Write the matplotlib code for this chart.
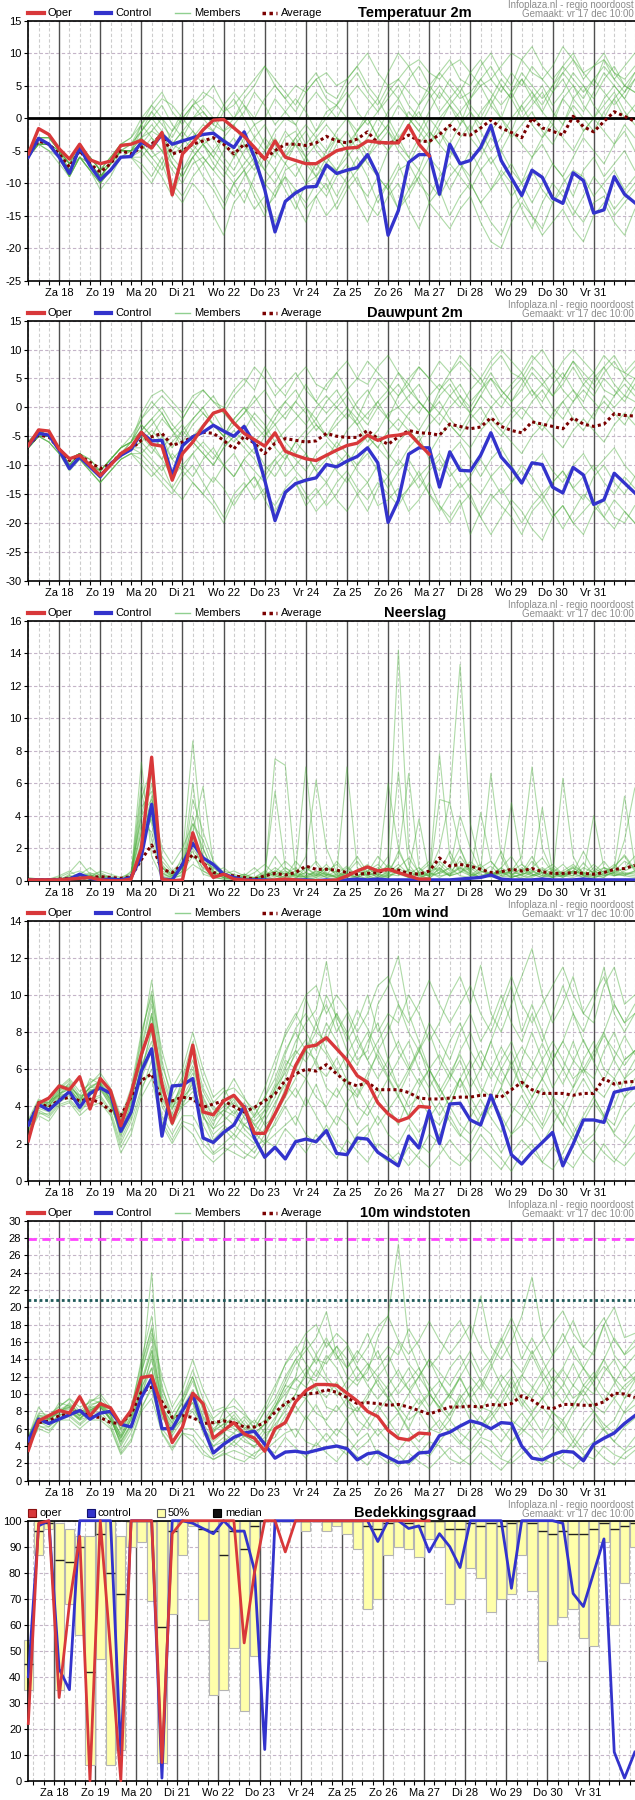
import numpy as np
import matplotlib
matplotlib.use('Agg')
import matplotlib.pyplot as plt
from matplotlib.lines import Line2D
from matplotlib.patches import Rectangle

plt.rcParams['font.family'] = ['Liberation Sans', 'DejaVu Sans']
NARROW = ['Liberation Sans Narrow', 'Liberation Sans', 'DejaVu Sans']

N = 60
steps = np.arange(N)
day_labels = ['Za 18', 'Zo 19', 'Ma 20', 'Di 21', 'Wo 22', 'Do 23', 'Vr 24',
              'Za 25', 'Zo 26', 'Ma 27', 'Di 28', 'Wo 29', 'Do 30', 'Vr 31']

# ---------------- Temperatuur 2m ----------------
temp_oper = [-5.5, -1.6, -2.5, -4.7, -6.3, -4.0, -6.4, -7.0, -6.6, -4.2,
             -4.0, -3.4, -4.6, -2.2, -11.8, -5.5, -3.8, -1.8, -0.3, -0.2,
             -1.5, -2.8, -4.5, -6.3, -3.5, -6.0, -6.5, -7.0, -7.0, -6.0,
             -5.0, -4.6, -4.5, -3.5, -3.7, -3.8, -3.8, -1.1, -4.0, -5.8]
temp_ctrl = [-6.0, -3.1, -4.0, -6.0, -8.5, -4.5, -7.3, -9.5, -8.0, -6.0,
             -5.9, -3.7, -4.5, -2.5, -4.0, -3.5, -3.0, -2.5, -2.3, -3.5,
             -4.5, -2.1, -6.0, -11.0, -17.5, -12.8, -11.5, -10.6, -10.5, -7.2,
             -8.5, -8.0, -7.6, -5.6, -8.8, -18.0, -14.2, -6.8, -5.6, -5.6,
             -11.7, -4.0, -7.0, -6.5, -4.5, -1.1, -6.5, -9.2, -11.9, -8.0,
             -9.1, -12.3, -13.1, -8.4, -9.6, -14.6, -14.1, -9.0, -11.7, -13.0]
temp_avg = [-5.5, -3.5, -4.0, -5.5, -7.5, -5.0, -7.0, -8.3, -7.0, -5.0,
            -5.5, -4.5, -4.0, -2.5, -5.5, -5.0, -4.0, -3.5, -3.0, -4.0,
            -5.5, -4.0, -5.0, -6.2, -5.0, -4.0, -4.0, -4.2, -3.8, -2.8,
            -3.5, -3.8, -3.2, -2.1, -3.8, -3.8, -3.5, -2.6, -3.5, -3.6,
            -2.5, -1.1, -2.5, -2.6, -1.5, -0.3, -1.5, -2.2, -3.0, 0.0,
            -1.5, -2.0, -2.6, 0.3, -1.3, -2.1, -0.5, 1.0, 0.3, -0.5]
temp_m01 = [-5, -3, -3, -5, -7, -4, -6, -8, -6, -4, -3, -1, 1, 3, 2, 0, 2, 4, 3, 1,
            2, 4, 6, 8, 5, 3, 5, 4, 6, 7, 5, 6, 8, 10, 7, 5, 6, 8, 9, 7,
            6, 8, 9, 7, 5, 6, 8, 10, 9, 7, 6, 8, 11, 9, 7, 8, 9, 7, 6, 8]
temp_m02 = [-6, -3, -4, -6, -8, -5, -7, -9, -7, -5, -4, -2, 0, 2, -1, -3, 0, 1, -1, -2,
            0, 2, -1, 0, 3, 1, -1, 2, 4, 2, 0, 3, 5, 3, 1, 4, 6, 4, 2, 5,
            7, 5, 3, 4, 6, 8, 5, 3, 6, 4, 2, 5, 7, 5, 3, 6, 8, 6, 4, 7]
temp_m03 = [-5, -4, -4, -5, -7, -5, -6, -8, -7, -5, -5, -3, -2, 0, -4, -5, -3, -1, -2, -4,
            -6, -3, -1, -4, -6, -3, -2, -5, -3, -1, -3, -4, -2, 0, -3, -5, -2, 1, -1, -3,
            0, 2, 0, -2, 1, 3, 0, -2, 2, 4, 1, -1, 3, 5, 2, 0, 3, 5, 3, 1]
temp_m04 = [-6, -4, -5, -7, -9, -6, -8, -10, -8, -6, -6, -5, -7, -9, -12, -8, -6, -9, -11, -14,
            -10, -8, -12, -15, -11, -9, -13, -16, -12, -10, -14, -11, -9, -13, -15, -12, -10, -14, -17, -13,
            -11, -15, -12, -10, -13, -16, -18, -14, -12, -15, -17, -13, -11, -14, -16, -13, -12, -15, -13, -11]
temp_m05 = [-5, -3, -4, -6, -8, -5, -7, -9, -8, -6, -5, -4, -6, -5, -8, -10, -7, -6, -8, -10,
            -12, -9, -7, -10, -12, -8, -7, -10, -9, -7, -8, -10, -8, -6, -9, -11, -8, -7, -10, -12,
            -9, -7, -9, -11, -8, -6, -9, -12, -10, -8, -11, -13, -10, -8, -9, -12, -10, -8, -11, -9]
temp_m06 = [-6, -4, -4, -6, -9, -6, -8, -10, -8, -5, -5, -2, 1, -1, -3, 0, 2, 0, -2, 1,
            3, 0, -3, -5, -2, 0, -1, -4, -2, 1, 2, 0, -2, 1, 3, 0, -3, -1, 2, 4,
            1, 3, 5, 2, 0, 3, 6, 4, 1, 3, 5, 2, 4, 7, 5, 3, 6, 8, 5, 4]
temp_m07 = [-5, -3, -3, -5, -7, -4, -7, -9, -7, -4, -4, -3, -5, -7, -4, -2, -4, -6, -8, -5,
            -3, -6, -8, -5, -3, -6, -4, -2, -5, -7, -4, -2, -5, -3, 0, -2, -4, -1, 1, -2,
            -4, -1, 1, -3, -5, -2, 0, -3, -1, 1, -2, -4, -1, 2, 0, -2, 1, 3, 0, 2]
temp_m08 = [-6, -4, -5, -6, -8, -6, -7, -9, -8, -6, -6, -6, -4, -2, -6, -8, -5, -3, -5, -7,
            -9, -7, -5, -8, -10, -7, -4, -6, -9, -11, -8, -6, -4, -7, -9, -5, -3, -6, -8, -4,
            -2, -5, -7, -9, -6, -3, -5, -8, -10, -6, -4, -7, -9, -6, -3, -5, -7, -4, -2, -5]
temp_m09 = [-5, -4, -4, -6, -9, -6, -8, -11, -9, -6, -6, -8, -10, -7, -11, -13, -10, -12, -15, -18,
            -13, -11, -14, -12, -16, -13, -11, -14, -12, -15, -13, -10, -13, -16, -12, -10, -14, -12, -9, -13,
            -15, -17, -14, -12, -16, -19, -20, -16, -13, -15, -18, -16, -14, -17, -19, -15, -13, -16, -18, -14]
temp_m10 = [-5, -3, -3, -5, -7, -5, -6, -8, -6, -4, -3, 0, 2, 4, 1, -1, 2, 3, 5, 2,
            0, 3, 5, 8, 6, 4, 2, 5, 7, 4, 3, 6, 8, 5, 3, 7, 10, 8, 5, 4,
            7, 9, 6, 5, 8, 10, 7, 5, 9, 11, 8, 6, 8, 10, 7, 5, 9, 6, 8, 10]
temp_m11 = [-6, -3, -4, -6, -8, -5, -7, -9, -7, -5, -5, -1, -3, -5, -2, 0, -2, -4, -6, -3,
            -1, -4, -6, -8, -5, -2, -4, -7, -9, -6, -3, -5, -8, -6, -3, -1, -4, -6, -3, 0,
            -2, -4, -1, 1, -2, -5, -3, 0, 2, -1, -3, 0, 3, 1, -2, 0, 2, 4, 1, -1]
temp_m12 = [-5, -3, -4, -5, -8, -5, -7, -9, -7, -5, -5, -4, -2, -3, -7, -9, -6, -4, -3, -6,
            -8, -5, -3, -1, -4, -6, -3, -1, -3, -5, -2, 0, -3, -5, -2, 1, 3, 0, -2, 1,
            4, 2, -1, 3, 5, 2, 0, 4, 6, 3, 1, 4, 6, 3, 1, 4, 7, 5, 3, 6]
temp_m13 = [-6, -4, -4, -6, -9, -6, -8, -10, -8, -6, -5, -3, -1, -3, -6, -4, -2, -4, -7, -9,
            -6, -4, -7, -10, -8, -5, -3, -6, -8, -5, -3, -5, -2, 0, -3, -1, 2, 0, -2, -4,
            -1, 2, 4, 1, -1, 2, 5, 3, 0, 2, 4, 1, -1, 3, 5, 2, 0, 3, 5, 4]
temp_m14 = [-5, -3, -4, -6, -8, -5, -7, -9, -8, -6, -6, -7, -9, -6, -10, -12, -9, -7, -10, -13,
            -10, -8, -11, -14, -12, -9, -11, -13, -10, -12, -9, -7, -10, -12, -9, -11, -14, -11, -8, -10,
            -12, -9, -7, -10, -13, -11, -8, -10, -14, -17, -13, -10, -12, -15, -12, -9, -11, -14, -12, -10]
temp_m15 = [-5, -3, -3, -5, -7, -4, -6, -8, -6, -4, -4, -1, 2, 0, -2, 1, 3, 1, -1, 2,
            4, 2, 0, 3, 5, 3, 1, 4, 6, 3, 2, 5, 7, 4, 2, 5, 3, 6, 8, 5,
            3, 6, 4, 7, 9, 6, 4, 7, 5, 8, 6, 4, 7, 9, 6, 8, 10, 7, 5, 7]
temp_m16 = [-6, -4, -4, -6, -8, -6, -7, -9, -7, -5, -5, -4, -6, -8, -5, -3, -5, -7, -5, -3,
            -5, -8, -6, -3, -5, -7, -9, -6, -4, -6, -8, -5, -3, -6, -4, -2, -5, -7, -4, -2,
            -4, -6, -3, -1, -4, -7, -5, -2, -4, -6, -3, -1, -3, -5, -2, 0, -2, -4, -1, -3]
temp_m17 = [-5, -4, -4, -6, -8, -5, -7, -9, -7, -5, -5, -5, -3, -5, -7, -9, -6, -4, -6, -8,
            -10, -13, -9, -6, -8, -11, -14, -10, -7, -9, -12, -9, -6, -9, -13, -10, -7, -11, -9, -6,
            -8, -11, -8, -5, -8, -11, -9, -7, -10, -13, -10, -7, -9, -12, -8, -6, -9, -7, -5, -8]
temp_m18 = [-6, -3, -4, -5, -8, -5, -6, -8, -7, -5, -4, -2, 0, -2, -4, -2, 0, 2, 0, -2,
            -1, 1, 4, 2, -1, 1, 3, 1, -2, 0, 2, 4, 1, -1, 1, 3, 5, 2, 0, 3,
            5, 3, 1, 3, 6, 4, 2, 4, 7, 5, 3, 5, 8, 6, 4, 6, 4, 2, 4, 6]

# ---------------- Dauwpunt 2m ----------------
dew_oper = [-6.6, -3.9, -4.1, -7.2, -8.9, -8.3, -10.0, -11.8, -10.0, -8.0,
            -6.9, -4.3, -6.4, -6.7, -12.6, -8.0, -6.0, -3.3, -1.0, -0.4,
            -2.7, -4.5, -5.6, -6.7, -4.4, -7.6, -8.3, -8.9, -9.2, -8.3,
            -7.4, -6.6, -6.2, -4.8, -5.7, -5.0, -4.8, -4.4, -6.3, -8.1]
dew_ctrl = [-6.6, -4.5, -4.8, -7.4, -10.6, -8.6, -10.3, -12.0, -9.8, -8.3,
            -7.3, -4.4, -5.8, -5.7, -11.8, -6.6, -5.1, -4.3, -3.1, -4.1,
            -5.0, -3.3, -6.3, -12.6, -19.6, -14.7, -13.2, -12.6, -12.2, -9.9,
            -10.3, -9.3, -8.5, -7.0, -9.6, -19.9, -16.1, -8.1, -7.0, -7.0,
            -13.8, -7.7, -10.9, -11.0, -8.3, -4.4, -8.6, -10.6, -13.1, -9.6,
            -9.9, -13.8, -14.8, -10.4, -11.7, -16.8, -16.0, -11.4, -13.1, -14.8]
dew_avg = [-6.6, -4.8, -5.1, -7.2, -9.2, -8.3, -9.5, -10.6, -9.8, -8.0,
           -7.2, -5.7, -5.1, -4.5, -6.6, -6.0, -5.1, -4.3, -4.5, -5.7,
           -7.2, -5.0, -6.2, -8.0, -6.2, -5.4, -5.7, -6.0, -5.8, -4.5,
           -5.0, -5.2, -5.2, -4.0, -5.4, -6.4, -5.1, -4.0, -4.4, -4.5,
           -4.8, -2.9, -3.3, -3.7, -3.4, -1.8, -3.3, -4.0, -4.4, -2.5,
           -2.9, -3.3, -3.7, -1.8, -2.9, -3.3, -2.9, -1.1, -1.4, -1.5]
dew_m01 = [-6, -4, -5, -7, -9, -8, -10, -11, -9, -7, -5, -2, 0, 2, 0, -2, 1, 3, 1, -1,
           2, 4, 7, 5, 2, 4, 6, 3, 1, 4, 6, 3, 5, 8, 6, 4, 2, 5, 7, 5,
           3, 6, 8, 6, 4, 7, 9, 6, 5, 8, 10, 7, 5, 8, 6, 4, 7, 9, 6, 5]
dew_m02 = [-7, -5, -5, -7, -10, -8, -10, -12, -10, -8, -7, -5, -3, -1, -4, -6, -3, -1, -3, -5,
           -2, 0, -2, -4, -1, 1, -1, -3, 0, 2, 0, -2, 1, 3, 0, -2, 2, 4, 1, -1,
           3, 5, 2, 0, 3, 5, 2, 4, 6, 3, 1, 4, 6, 3, 1, 5, 7, 4, 2, 5]
dew_m03 = [-7, -5, -6, -8, -10, -9, -11, -13, -11, -9, -8, -9, -11, -13, -15, -12, -10, -13, -16, -19,
           -15, -13, -16, -14, -18, -15, -13, -16, -14, -17, -15, -12, -15, -18, -14, -12, -16, -14, -11, -15,
           -17, -19, -16, -22, -18, -15, -17, -19, -22, -18, -16, -19, -17, -20, -22, -18, -16, -19, -20, -17]
dew_m04 = [-6, -4, -5, -7, -9, -8, -10, -12, -10, -8, -7, -7, -9, -11, -8, -10, -12, -9, -7, -10,
           -12, -9, -11, -13, -10, -8, -11, -13, -10, -8, -11, -13, -10, -8, -11, -14, -11, -9, -12, -10,
           -8, -11, -14, -12, -9, -12, -15, -13, -10, -12, -15, -13, -11, -14, -16, -12, -10, -13, -15, -12]
dew_m05 = [-6, -5, -5, -7, -9, -8, -9, -11, -9, -7, -6, -4, -2, 0, -3, -5, -2, 0, 2, -1,
           -3, -1, 1, 3, 0, -2, 1, -1, -4, -2, 0, 2, -1, -3, 0, 2, 4, 1, -1, 2,
           4, 2, 0, 3, 5, 2, 0, 3, 5, 2, 4, 6, 3, 1, 4, 6, 3, 2, 5, 3]
dew_m06 = [-7, -5, -5, -7, -10, -8, -10, -12, -10, -8, -7, -6, -8, -5, -9, -11, -8, -6, -8, -10,
           -12, -9, -7, -10, -12, -9, -6, -8, -11, -9, -6, -8, -10, -7, -5, -8, -10, -7, -5, -9,
           -11, -8, -6, -9, -12, -9, -7, -10, -13, -10, -8, -11, -13, -10, -8, -11, -9, -7, -10, -12]
dew_m07 = [-6, -4, -5, -7, -9, -8, -10, -11, -9, -7, -6, -1, 2, 3, 1, -1, 2, 3, 1, 0,
           3, 5, 3, 7, 4, 2, 5, 7, 4, 3, 6, 8, 5, 4, 7, 9, 6, 4, 7, 5,
           8, 6, 9, 7, 5, 8, 10, 8, 6, 9, 7, 5, 8, 10, 8, 6, 9, 7, 6, 8]
dew_m08 = [-7, -4, -5, -7, -10, -8, -10, -12, -10, -8, -7, -6, -4, -6, -9, -7, -5, -7, -9, -6,
           -4, -6, -8, -5, -3, -6, -8, -5, -3, -5, -7, -4, -2, -5, -7, -4, -2, -4, -6, -3,
           -1, -3, -5, -2, 0, -3, -5, -2, 0, -2, -4, -1, 1, -2, -4, -1, 1, -1, -3, 0]
dew_m09 = [-7, -5, -6, -8, -11, -9, -11, -13, -11, -9, -8, -10, -12, -10, -14, -16, -13, -15, -17, -20,
           -16, -14, -12, -16, -19, -15, -13, -17, -15, -13, -16, -18, -15, -13, -17, -16, -14, -18, -16, -13,
           -17, -20, -17, -15, -19, -22, -19, -16, -18, -21, -23, -19, -17, -20, -18, -16, -19, -21, -18, -20]
dew_m10 = [-6, -5, -5, -7, -9, -8, -10, -12, -10, -8, -6, -3, -5, -7, -5, -3, -6, -8, -10, -7,
           -5, -3, -6, -4, -7, -9, -6, -4, -2, -5, -3, -1, -3, -6, -4, -1, 0, -2, -4, -1,
           1, -2, -4, -1, 2, 0, -3, -1, 1, 3, 0, -2, 1, 3, 0, -2, 2, 0, 2, 1]
dew_m11 = [-7, -5, -5, -7, -10, -8, -10, -12, -10, -8, -7, -5, -7, -9, -6, -4, -6, -8, -10, -7,
           -5, -7, -9, -12, -9, -7, -9, -11, -8, -6, -8, -10, -7, -5, -7, -9, -6, -4, -6, -8,
           -5, -3, -5, -7, -4, -2, -4, -6, -8, -5, -3, -5, -7, -4, -2, -4, -6, -3, -1, -3]
dew_m12 = [-6, -4, -5, -7, -9, -8, -10, -11, -9, -7, -6, -2, 1, -1, -4, -2, 1, -1, -3, -5,
           -2, 0, -3, -5, -2, 1, 3, 0, -2, 1, 3, 0, -2, 2, 5, 3, 0, 2, 4, 1,
           -1, 2, 4, 1, 3, 6, 3, 1, 4, 7, 5, 2, 4, 7, 4, 2, 5, 3, 1, 4]
dew_m13 = [-7, -5, -6, -8, -10, -9, -11, -13, -11, -9, -8, -8, -10, -12, -14, -11, -13, -15, -12, -14,
           -17, -14, -12, -15, -17, -14, -12, -15, -18, -16, -13, -11, -14, -16, -13, -15, -17, -14, -12, -15,
           -18, -15, -13, -16, -19, -16, -14, -17, -20, -17, -15, -18, -21, -18, -15, -17, -19, -16, -18, -20]
dew_m14 = [-6, -4, -5, -7, -9, -8, -9, -11, -9, -7, -6, -3, -5, -2, -4, -7, -5, -3, -1, -4,
           -6, -4, -1, -3, -6, -4, -2, 0, -3, -5, -2, 0, -3, -1, 1, -2, -4, -1, 1, -1,
           -3, 0, 2, -1, -3, 0, 2, 0, -2, 1, 3, 0, -2, 1, 3, 1, -1, 2, 4, 2]
dew_m15 = [-7, -5, -5, -7, -10, -8, -10, -12, -10, -8, -7, -8, -6, -9, -12, -10, -8, -11, -13, -10,
           -8, -11, -14, -11, -9, -12, -10, -8, -11, -13, -10, -8, -11, -13, -10, -12, -9, -11, -14, -11,
           -9, -12, -10, -13, -15, -12, -10, -13, -11, -14, -16, -13, -11, -14, -12, -10, -13, -15, -12, -14]
dew_m16 = [-6, -5, -5, -7, -9, -8, -10, -12, -10, -8, -6, -4, -2, -5, -7, -4, -2, 0, -3, -5,
           -3, -1, 2, -1, -3, -1, 1, 4, 1, -1, 1, 3, 0, -2, 1, 3, 6, 3, 1, -1,
           2, 4, 1, -1, 2, 5, 3, 1, 3, 6, 4, 2, 5, 8, 5, 3, 6, 8, 5, 7]

# ---------------- Neerslag ----------------
rain_oper = [0.05, 0.05, 0.05, 0.05, 0.1, 0.15, 0.2, 0.05, 0.0, 0.0,
             0.1, 2.0, 7.6, 0.1, 0.0, 0.05, 2.95, 1.1, 0.2, 0.4,
             0.1, 0.05, 0.0, 0.0, 0.05, 0.1, 0.05, 0.0, 0.0, 0.0,
             0.05, 0.3, 0.6, 0.85, 0.6, 0.7, 0.5, 0.3, 0.1, 0.1]
rain_ctrl = [0.05, 0.05, 0.05, 0.05, 0.1, 0.4, 0.15, 0.05, 0.1, 0.05,
             0.2, 1.5, 4.7, 0.1, 0.05, 1.0, 2.3, 1.4, 1.0, 0.4,
             0.2, 0.05, 0.05, 0.05, 0.0, 0.05, 0.05, 0.05, 0.0, 0.05,
             0.0, 0.05, 0.1, 0.05, 0.1, 0.05, 0.05, 0.05, 0.05, 0.05,
             0.05, 0.05, 0.1, 0.15, 0.2, 0.35, 0.1, 0.05, 0.05, 0.05,
             0.1, 0.05, 0.05, 0.05, 0.1, 0.05, 0.05, 0.05, 0.05, 0.05]
rain_avg = [0.05, 0.05, 0.05, 0.1, 0.15, 0.15, 0.2, 0.25, 0.2, 0.15,
            0.25, 1.3, 2.2, 0.7, 0.5, 1.0, 1.6, 1.1, 0.5, 0.35,
            0.3, 0.2, 0.1, 0.3, 0.45, 0.35, 0.5, 0.9, 0.7, 0.7,
            0.65, 0.5, 0.4, 0.45, 0.5, 0.7, 0.65, 0.45, 0.4, 0.6,
            1.4, 0.9, 1.0, 0.9, 0.7, 0.5, 0.55, 0.7, 0.6, 0.75,
            0.55, 0.45, 0.45, 0.5, 0.45, 0.4, 0.5, 0.7, 0.75, 0.95]
rain_m01 = [0.0, 0.0, 0.0, 0.1, 0.3, 0.2, 0.5, 0.2, 0.0, 0.0, 0.3, 7.3, 1.5, 0.2, 0.1, 0.8, 2.5, 0.6, 0.2, 0.1,
            0.0, 0.0, 0.1, 0.3, 0.6, 0.3, 0.1, 0.8, 0.4, 0.2, 0.1, 0.5, 1.2, 0.3, 0.6, 1.5, 14.2, 2.0, 0.4, 0.1,
            0.8, 0.3, 1.5, 0.6, 0.2, 0.5, 1.8, 0.4, 0.1, 0.3, 0.7, 0.2, 0.5, 0.3, 1.1, 0.4, 0.2, 0.9, 1.5, 0.6]
rain_m02 = [0.1, 0.0, 0.1, 0.2, 0.5, 1.2, 0.4, 0.1, 0.0, 0.2, 0.5, 3.0, 6.0, 0.5, 0.2, 1.5, 8.6, 2.0, 0.5, 0.3,
            0.2, 0.1, 0.0, 0.2, 7.5, 7.1, 0.5, 0.2, 0.4, 1.0, 0.3, 0.2, 0.6, 0.2, 0.1, 0.4, 0.8, 0.3, 0.1, 0.5,
            2.0, 5.0, 13.3, 3.5, 0.8, 0.3, 0.6, 0.2, 0.4, 1.2, 0.5, 0.2, 0.3, 0.8, 0.3, 0.1, 0.5, 1.0, 0.4, 0.3]
rain_m03 = [0.0, 0.1, 0.0, 0.0, 0.2, 0.4, 0.8, 0.3, 0.1, 0.0, 0.2, 4.5, 5.5, 1.0, 0.3, 0.5, 4.0, 1.5, 0.6, 0.2,
            0.1, 0.3, 0.8, 0.2, 0.5, 1.2, 0.6, 7.0, 1.0, 0.3, 0.2, 0.8, 0.3, 0.1, 0.2, 0.6, 1.5, 6.6, 0.8, 0.2,
            7.8, 1.5, 0.5, 0.8, 0.3, 0.5, 0.2, 0.6, 1.5, 7.0, 2.0, 0.5, 0.2, 0.6, 0.4, 0.2, 0.8, 0.5, 0.3, 0.2]
rain_m04 = [0.0, 0.0, 0.0, 0.1, 0.1, 0.3, 0.2, 0.6, 0.4, 0.2, 0.4, 6.0, 3.5, 0.5, 0.1, 0.6, 5.0, 3.0, 1.2, 0.5,
            0.2, 0.1, 0.2, 0.1, 0.3, 0.2, 0.4, 1.5, 6.2, 2.0, 0.5, 7.0, 0.8, 0.3, 0.1, 0.3, 6.7, 1.0, 0.2, 0.4,
            1.2, 0.6, 4.0, 2.0, 0.6, 6.6, 1.5, 0.3, 0.2, 0.5, 0.8, 0.4, 0.2, 0.5, 1.8, 0.6, 0.3, 0.5, 2.5, 5.7]
rain_m05 = [0.0, 0.0, 0.1, 0.0, 0.4, 0.6, 0.3, 0.2, 0.1, 0.0, 0.1, 2.0, 4.0, 0.8, 0.4, 1.0, 3.0, 5.8, 1.0, 0.3,
            0.1, 0.0, 0.1, 0.4, 5.5, 0.8, 0.3, 0.2, 0.6, 0.4, 0.2, 0.1, 0.3, 0.6, 0.2, 6.0, 2.0, 0.5, 0.3, 0.1,
            5.0, 4.8, 2.0, 0.4, 0.2, 0.3, 0.8, 0.4, 0.5, 1.5, 0.4, 0.2, 6.3, 1.5, 0.3, 0.2, 0.4, 0.8, 5.2, 1.0]
rain_m06 = [0.2, 0.1, 0.0, 0.1, 0.2, 0.1, 0.4, 0.5, 0.2, 0.1, 0.2, 5.0, 7.0, 0.8, 0.3, 0.9, 6.0, 1.2, 0.3, 0.6,
            0.4, 0.2, 0.1, 0.3, 0.8, 0.4, 0.2, 0.5, 0.3, 0.8, 0.4, 0.2, 0.6, 0.3, 0.5, 0.9, 0.4, 0.6, 3.8, 0.5,
            0.3, 0.4, 0.9, 0.4, 0.2, 0.6, 0.3, 0.2, 0.4, 0.5, 4.5, 0.6, 0.3, 0.2, 0.4, 4.0, 0.8, 0.3, 0.4, 0.6]
rain_m07 = [0.0, 0.0, 0.0, 0.0, 0.1, 0.2, 0.1, 0.1, 0.0, 0.0, 0.2, 3.5, 3.0, 0.4, 0.2, 0.3, 2.0, 1.0, 0.5, 0.8,
            0.3, 0.2, 0.1, 0.2, 0.4, 0.6, 0.2, 0.3, 0.6, 0.3, 1.2, 0.4, 0.2, 0.5, 1.5, 0.8, 0.4, 0.2, 0.5, 1.0,
            0.6, 0.3, 0.8, 0.4, 4.2, 1.2, 0.5, 0.8, 0.3, 0.2, 0.5, 0.3, 0.6, 1.0, 0.5, 0.3, 0.2, 0.6, 1.2, 0.8]
rain_m08 = [0.0, 0.1, 0.1, 0.0, 0.0, 0.1, 0.0, 0.2, 0.3, 0.1, 0.3, 5.5, 2.5, 0.3, 0.1, 0.4, 1.0, 0.6, 0.3, 0.2,
            0.0, 0.0, 0.2, 0.5, 0.3, 0.1, 0.4, 0.8, 0.3, 0.5, 0.2, 0.4, 0.1, 0.2, 0.4, 0.3, 1.8, 0.6, 0.3, 0.5,
            0.2, 0.5, 1.2, 0.5, 0.2, 0.4, 0.6, 4.8, 1.0, 0.6, 0.3, 0.5, 1.0, 0.4, 0.2, 0.8, 0.4, 0.3, 0.6, 0.9]
rain_m09 = [0.0, 0.0, 0.0, 0.1, 0.2, 0.3, 0.1, 0.0, 0.0, 0.1, 0.1, 1.5, 4.8, 2.0, 1.0, 2.0, 3.5, 2.5, 0.8, 0.4,
            0.2, 0.0, 0.1, 0.2, 0.1, 0.3, 0.6, 0.2, 0.1, 0.3, 0.6, 0.2, 0.5, 0.8, 0.3, 0.2, 0.6, 0.3, 0.1, 0.2,
            0.5, 0.8, 0.3, 0.2, 0.6, 0.3, 0.5, 0.2, 0.4, 0.6, 0.3, 0.2, 0.5, 0.8, 0.4, 0.6, 0.3, 0.5, 0.8, 1.5]
rain_m10 = [0.1, 0.0, 0.1, 0.3, 0.6, 0.2, 0.1, 0.3, 0.2, 0.0, 0.6, 4.0, 5.0, 1.5, 0.6, 1.2, 1.8, 0.4, 0.2, 0.1,
            0.2, 0.4, 0.1, 0.0, 0.2, 0.5, 0.3, 0.1, 0.2, 0.4, 0.3, 0.5, 0.2, 0.4, 0.8, 0.3, 0.5, 0.2, 0.4, 0.3,
            0.7, 0.3, 0.5, 1.0, 0.4, 0.2, 0.5, 0.3, 0.8, 0.4, 0.2, 0.4, 0.3, 0.5, 0.2, 0.4, 0.6, 0.3, 0.5, 0.4]
rain_m11 = [0.0, 0.0, 0.0, 0.1, 0.2, 0.1, 0.3, 0.4, 0.2, 0.1, 0.2, 3.0, 4.2, 0.6, 0.3, 0.8, 2.2, 1.6, 0.4, 0.2,
            0.1, 0.2, 0.5, 1.0, 0.4, 0.2, 1.2, 0.5, 0.2, 0.6, 1.0, 0.4, 0.2, 0.8, 0.3, 1.0, 0.5, 0.2, 0.6, 1.2,
            0.4, 0.8, 2.0, 0.6, 1.0, 0.3, 0.8, 1.5, 0.5, 0.3, 0.6, 1.0, 0.4, 0.3, 0.8, 0.5, 1.2, 0.4, 0.8, 1.0]
rain_m12 = [0.0, 0.1, 0.0, 0.0, 0.1, 0.3, 0.2, 0.1, 0.2, 0.1, 0.1, 2.5, 3.8, 0.8, 0.2, 0.6, 1.5, 0.8, 0.3, 0.4,
            0.6, 0.3, 0.1, 0.4, 1.5, 0.6, 0.3, 0.5, 1.2, 0.4, 0.2, 0.6, 1.5, 0.5, 0.2, 0.5, 1.0, 0.4, 0.8, 0.3,
            0.5, 1.8, 0.6, 0.3, 0.8, 1.2, 0.4, 0.6, 0.3, 0.8, 1.4, 0.5, 0.3, 0.6, 0.4, 1.0, 0.5, 0.8, 1.6, 0.7]
rain_m13 = [0.1, 0.0, 0.0, 0.0, 0.3, 0.2, 0.1, 0.2, 0.1, 0.0, 0.3, 4.0, 6.5, 1.2, 0.5, 1.0, 3.5, 2.0, 0.6, 0.2,
            0.3, 0.1, 0.2, 0.6, 0.3, 0.8, 0.4, 0.2, 0.3, 0.8, 0.5, 0.3, 0.6, 1.0, 0.4, 0.2, 0.8, 1.4, 0.5, 0.3,
            1.0, 0.4, 0.8, 0.3, 0.5, 0.9, 0.3, 0.6, 1.0, 0.4, 0.2, 0.7, 0.4, 0.9, 0.5, 0.3, 0.6, 0.4, 0.3, 0.6]
rain_m14 = [0.0, 0.0, 0.1, 0.0, 0.2, 0.4, 0.3, 0.1, 0.0, 0.1, 0.2, 2.2, 5.2, 0.9, 0.4, 0.7, 2.8, 1.2, 0.8, 0.3,
            0.2, 0.4, 0.2, 0.3, 0.6, 0.4, 0.8, 0.3, 0.5, 0.2, 0.4, 0.9, 0.3, 0.6, 1.0, 0.4, 0.3, 0.7, 0.4, 0.6,
            0.8, 0.3, 0.5, 1.2, 0.6, 0.3, 0.6, 0.4, 0.7, 0.3, 0.5, 0.8, 0.4, 0.6, 0.3, 0.5, 0.8, 0.6, 0.4, 0.5]

# ---------------- 10m wind ----------------
wind_oper = [2.15, 4.17, 4.45, 5.1, 4.9, 5.6, 3.86, 5.5, 4.85, 2.96,
             4.7, 6.8, 8.4, 5.2, 3.1, 4.7, 7.3, 3.7, 3.55, 4.3,
             4.6, 3.95, 2.55, 2.55, 3.6, 4.7, 6.2, 7.2, 7.3, 7.7,
             7.1, 6.5, 5.65, 5.3, 4.2, 3.6, 3.2, 3.4, 4.0, 3.95]
wind_ctrl = [3.0, 4.1, 3.8, 4.3, 4.8, 3.95, 4.7, 5.0, 4.7, 2.66,
             3.7, 5.9, 7.1, 2.4, 5.1, 5.15, 5.5, 2.3, 2.06, 2.6,
             3.0, 4.0, 2.3, 1.26, 1.8, 1.17, 2.1, 2.24, 2.1, 2.7,
             1.47, 1.4, 2.3, 2.24, 1.53, 1.17, 0.8, 2.4, 1.76, 3.77,
             2.0, 4.13, 4.17, 3.27, 3.0, 4.6, 3.2, 1.4, 0.9, 1.53,
             2.06, 2.6, 0.8, 1.97, 3.27, 3.27, 3.14, 4.76, 4.9, 5.0]
wind_avg = [2.96, 4.2, 3.95, 4.35, 4.5, 4.3, 4.4, 4.2, 3.77, 3.5,
            4.5, 5.4, 5.75, 4.3, 4.3, 4.5, 4.4, 3.95, 4.13, 4.3,
            4.0, 3.7, 3.95, 4.3, 4.67, 5.4, 5.75, 6.0, 5.9, 6.25,
            5.75, 5.3, 5.1, 5.3, 4.9, 4.9, 4.9, 4.75, 4.45, 4.4,
            4.4, 4.45, 4.5, 4.5, 4.6, 4.6, 4.5, 4.9, 5.3, 4.9,
            4.7, 4.7, 4.7, 4.6, 4.7, 4.7, 5.5, 5.2, 5.3, 5.35]
wind_m01 = [3.0, 4.2, 4.0, 4.8, 5.2, 4.4, 5.0, 5.4, 4.6, 3.2, 4.8, 7.5, 10.8, 6.5, 4.2, 5.0, 6.0, 4.5, 3.5, 4.0,
            4.5, 3.8, 3.0, 3.5, 4.5, 6.0, 7.5, 8.5, 9.2, 11.8, 8.5, 7.0, 6.2, 7.5, 8.5, 6.5, 5.0, 6.0, 7.2, 5.5,
            4.5, 5.5, 6.5, 5.0, 6.0, 7.5, 6.0, 5.0, 6.5, 8.0, 6.5, 5.0, 6.0, 7.5, 6.0, 5.5, 7.0, 8.0, 6.5, 7.0]
wind_m02 = [3.2, 4.0, 3.8, 4.5, 4.8, 4.0, 4.6, 5.0, 4.2, 2.5, 3.5, 5.5, 7.0, 4.0, 3.0, 4.5, 5.0, 3.0, 2.0, 2.5,
            3.0, 2.5, 2.0, 2.8, 3.5, 4.5, 5.5, 7.0, 8.0, 7.5, 9.0, 8.0, 6.5, 7.0, 9.5, 10.5, 12.1, 9.0, 7.5, 6.0,
            5.0, 4.0, 5.5, 4.5, 3.5, 4.0, 5.0, 6.5, 5.0, 4.0, 3.0, 4.5, 3.5, 2.5, 3.5, 4.5, 3.5, 3.0, 4.5, 5.5]
wind_m03 = [2.5, 3.5, 3.2, 4.0, 4.2, 3.5, 4.0, 4.2, 3.5, 1.5, 2.5, 4.5, 5.5, 3.0, 2.0, 3.0, 2.5, 1.5, 1.0, 1.5,
            2.0, 1.5, 1.2, 2.0, 2.5, 3.0, 3.5, 2.5, 2.0, 3.0, 2.0, 1.5, 2.5, 3.0, 1.5, 1.0, 1.5, 0.8, 1.5, 2.5,
            2.0, 1.2, 0.8, 1.5, 2.5, 1.8, 1.2, 0.5, 1.5, 2.0, 1.0, 0.6, 1.5, 2.5, 1.5, 1.0, 2.0, 1.2, 0.8, 1.5]
wind_m04 = [3.0, 4.3, 4.2, 5.0, 5.5, 4.8, 5.2, 5.8, 5.0, 3.5, 4.5, 6.5, 9.0, 5.5, 4.0, 4.5, 5.5, 4.0, 3.0, 4.5,
            5.5, 4.5, 3.5, 4.5, 5.5, 7.0, 8.0, 7.0, 6.5, 8.0, 9.0, 7.5, 8.5, 10.0, 8.0, 9.0, 8.5, 10.0, 9.0, 7.5,
            8.5, 10.0, 11.0, 9.5, 11.6, 9.0, 8.0, 9.5, 11.0, 12.5, 10.0, 8.5, 9.5, 11.0, 9.0, 8.5, 10.5, 11.5, 9.5, 10.0]
wind_m05 = [2.8, 3.8, 3.5, 4.2, 4.6, 4.0, 4.8, 5.0, 4.0, 2.8, 4.0, 6.0, 8.0, 4.5, 3.5, 4.0, 4.5, 3.5, 2.5, 3.0,
            2.5, 3.5, 4.0, 3.0, 3.5, 5.0, 6.0, 5.5, 6.5, 5.0, 4.5, 5.5, 4.0, 3.5, 4.5, 5.5, 4.5, 3.5, 5.0, 6.0,
            5.0, 4.0, 5.5, 6.5, 5.0, 4.5, 6.0, 7.0, 5.5, 4.5, 5.5, 7.0, 6.0, 5.0, 6.5, 7.5, 6.0, 5.5, 6.5, 7.0]
wind_m06 = [3.1, 4.1, 4.3, 4.6, 5.0, 4.2, 5.5, 5.2, 4.4, 3.0, 4.2, 7.0, 9.5, 5.0, 3.8, 5.5, 7.0, 5.0, 4.0, 3.5,
            3.0, 4.0, 3.0, 2.5, 4.0, 5.5, 7.0, 9.8, 8.5, 7.0, 6.0, 5.0, 4.5, 5.5, 7.0, 6.0, 5.0, 4.0, 4.5, 3.5,
            3.0, 4.0, 3.0, 2.5, 3.5, 4.5, 3.5, 2.5, 3.0, 4.0, 5.0, 4.0, 3.0, 4.5, 5.5, 4.5, 3.5, 4.0, 5.5, 6.0]
wind_m07 = [3.3, 4.4, 4.1, 5.2, 5.0, 4.6, 4.6, 5.0, 4.8, 3.4, 5.0, 8.0, 10.0, 7.0, 5.0, 6.0, 8.0, 6.0, 4.5, 5.0,
            4.0, 3.0, 3.5, 4.5, 6.0, 8.0, 9.0, 8.0, 7.0, 8.5, 7.5, 6.0, 7.0, 8.0, 6.5, 5.5, 6.5, 7.5, 6.0, 5.0,
            6.0, 7.5, 8.5, 7.0, 6.0, 7.5, 9.0, 10.5, 8.0, 9.5, 8.0, 6.5, 7.5, 9.0, 7.5, 6.5, 8.0, 9.5, 8.5, 9.0]
wind_m08 = [2.6, 3.6, 3.6, 4.4, 4.4, 3.8, 4.4, 4.6, 3.8, 2.0, 3.2, 5.0, 6.0, 3.5, 2.5, 3.5, 3.5, 2.5, 1.5, 2.0,
            2.5, 2.0, 1.5, 2.5, 3.0, 4.0, 3.0, 4.5, 3.5, 2.5, 3.5, 3.0, 2.0, 2.5, 3.5, 2.5, 2.0, 3.0, 2.0, 1.5,
            2.5, 3.5, 2.5, 2.0, 3.0, 2.5, 1.5, 2.5, 3.5, 3.0, 2.0, 3.0, 4.0, 3.0, 2.0, 2.5, 3.5, 2.5, 2.0, 3.0]
wind_m09 = [3.0, 4.0, 4.0, 4.7, 4.9, 4.3, 5.1, 5.3, 4.3, 2.7, 4.1, 6.8, 8.5, 4.8, 3.6, 4.8, 5.8, 4.2, 3.2, 3.8,
            3.5, 3.0, 2.5, 3.5, 5.0, 6.5, 6.0, 7.0, 8.5, 9.5, 8.0, 9.0, 7.5, 6.5, 7.5, 8.5, 7.0, 6.0, 7.0, 8.0,
            6.5, 5.5, 7.0, 8.0, 6.5, 5.5, 6.5, 7.5, 6.0, 5.5, 6.5, 7.5, 6.5, 5.5, 6.0, 7.0, 8.0, 6.5, 5.5, 6.5]
wind_m10 = [2.9, 4.0, 3.9, 4.6, 4.7, 4.1, 4.9, 4.9, 4.1, 2.6, 3.8, 6.2, 7.5, 4.2, 3.2, 4.2, 4.8, 3.8, 2.8, 3.2,
            3.8, 2.8, 2.2, 3.2, 4.2, 5.2, 4.5, 5.5, 4.5, 4.0, 5.0, 4.0, 3.0, 4.0, 5.0, 4.0, 3.0, 4.5, 5.5, 4.5,
            3.5, 4.5, 5.5, 4.0, 3.0, 4.0, 5.0, 4.0, 3.5, 4.5, 5.5, 4.5, 4.0, 5.0, 6.0, 5.0, 4.5, 5.5, 4.5, 5.0]
wind_m11 = [2.9, 4.1, 4.0, 4.9, 5.1, 4.5, 5.0, 5.3, 4.5, 3.0, 4.4, 7.2, 9.8, 5.8, 4.1, 5.2, 6.5, 4.8, 3.8, 4.2,
            3.6, 4.2, 3.4, 4.0, 5.2, 6.8, 8.2, 9.0, 8.0, 10.0, 8.8, 7.8, 9.2, 8.2, 7.0, 8.0, 9.5, 8.0, 7.0, 8.5,
            7.5, 6.5, 8.0, 9.0, 7.5, 8.5, 10.0, 8.5, 7.5, 9.0, 7.5, 9.0, 10.5, 9.0, 8.0, 9.5, 11.5, 9.0, 8.0, 9.0]
wind_m12 = [3.1, 4.2, 4.1, 4.6, 5.3, 4.4, 5.0, 5.1, 4.4, 2.2, 3.4, 5.8, 8.2, 4.4, 3.4, 4.4, 5.2, 3.6, 2.2, 2.8,
            2.2, 3.0, 2.6, 2.0, 3.2, 4.2, 5.0, 4.0, 5.2, 3.8, 3.0, 4.2, 5.0, 4.0, 3.0, 3.8, 4.6, 3.4, 2.6, 3.4,
            4.2, 3.2, 2.4, 3.4, 4.4, 3.4, 2.6, 3.6, 4.6, 3.6, 2.8, 3.8, 3.0, 2.2, 3.2, 4.2, 3.4, 2.6, 3.6, 4.2]
wind_m13 = [2.7, 3.9, 3.7, 4.5, 4.7, 4.2, 4.8, 5.1, 4.2, 2.4, 3.6, 6.5, 9.0, 5.2, 3.0, 4.0, 5.4, 3.4, 2.8, 3.6,
            4.4, 3.4, 2.8, 3.8, 5.0, 5.8, 6.8, 7.6, 6.2, 5.6, 6.6, 5.4, 4.6, 5.8, 6.8, 5.6, 4.6, 5.8, 7.0, 6.0,
            4.8, 5.8, 6.8, 5.6, 4.6, 6.0, 7.2, 6.2, 5.0, 6.2, 7.4, 6.2, 5.2, 6.4, 7.6, 6.4, 5.4, 6.6, 7.8, 6.8]
wind_m14 = [3.2, 4.3, 4.2, 4.9, 5.4, 4.6, 5.3, 5.6, 4.7, 3.3, 4.6, 7.8, 10.2, 6.2, 4.6, 5.6, 7.5, 5.5, 4.2, 4.8,
            5.0, 4.4, 3.8, 5.0, 6.5, 7.8, 8.8, 10.0, 10.5, 9.0, 10.0, 9.2, 8.0, 9.0, 10.5, 11.0, 9.5, 8.5, 9.5, 10.8,
            9.5, 8.5, 9.5, 10.5, 9.0, 8.0, 9.5, 11.0, 9.5, 8.5, 9.5, 10.5, 11.5, 10.0, 9.0, 10.0, 11.0, 9.5, 8.5, 9.5]
wind_m15 = [2.7, 3.7, 3.4, 4.1, 4.3, 3.7, 4.3, 4.5, 3.6, 1.8, 2.8, 4.8, 6.5, 3.2, 2.2, 3.2, 3.0, 2.0, 1.4, 1.8,
            1.5, 1.2, 1.8, 2.2, 1.8, 2.8, 2.2, 1.5, 2.5, 1.8, 1.2, 2.2, 1.6, 1.0, 2.0, 1.5, 0.9, 1.8, 1.2, 0.7,
            1.4, 2.2, 1.5, 1.0, 1.8, 1.2, 0.6, 1.5, 2.2, 1.6, 1.0, 1.8, 1.2, 0.7, 1.6, 2.2, 1.5, 1.0, 1.8, 2.4]
wind_m16 = [3.0, 4.0, 4.2, 4.7, 5.0, 4.3, 4.8, 5.2, 4.3, 2.9, 4.3, 6.6, 8.8, 5.0, 3.9, 5.0, 6.2, 4.4, 3.4, 3.8,
            4.2, 3.6, 3.2, 3.8, 4.8, 6.2, 7.0, 6.4, 7.5, 6.8, 5.8, 6.8, 7.8, 6.5, 5.5, 6.5, 7.5, 6.2, 5.2, 6.0,
            6.8, 5.8, 5.0, 6.0, 7.0, 6.0, 5.2, 6.2, 7.2, 6.4, 5.5, 6.5, 7.5, 6.5, 5.8, 6.8, 7.8, 7.0, 6.2, 7.0]

# ---------------- 10m windstoten ----------------
gust_oper = [3.5, 6.9, 7.5, 8.1, 7.8, 9.7, 7.5, 8.9, 8.4, 6.5,
             8.1, 11.9, 12.1, 8.5, 4.4, 6.2, 10.1, 8.9, 4.9, 5.8,
             6.7, 5.4, 4.9, 3.4, 6.0, 6.7, 9.1, 10.4, 11.1, 11.1,
             11.0, 10.1, 9.2, 8.0, 7.4, 5.8, 4.9, 4.7, 5.5, 5.4]
gust_ctrl = [4.6, 7.1, 6.6, 7.1, 7.6, 8.1, 7.1, 7.8, 8.0, 6.5,
             6.2, 9.6, 11.8, 6.0, 6.0, 8.1, 10.0, 6.2, 3.2, 4.2,
             5.0, 5.5, 5.7, 4.2, 2.6, 3.3, 3.4, 3.2, 3.5, 3.8,
             4.0, 3.7, 2.4, 3.1, 3.3, 2.7, 2.1, 2.2, 3.2, 3.3,
             5.2, 5.6, 6.3, 6.9, 6.6, 6.0, 6.7, 6.6, 4.0, 2.6,
             2.4, 3.0, 3.4, 3.3, 2.3, 4.2, 4.9, 5.5, 6.6, 7.5]
gust_avg = [4.2, 6.7, 6.9, 7.5, 7.7, 8.1, 7.4, 7.3, 6.7, 6.6,
            7.7, 10.2, 10.8, 9.1, 7.3, 7.5, 7.3, 6.6, 6.7, 6.9,
            6.7, 6.2, 6.2, 6.7, 7.9, 8.9, 9.6, 10.0, 10.1, 10.5,
            10.2, 9.6, 8.9, 9.0, 8.9, 8.7, 8.8, 8.5, 8.1, 7.7,
            8.1, 8.5, 8.5, 8.6, 8.5, 8.8, 8.7, 8.9, 9.8, 9.3,
            8.5, 8.3, 8.8, 8.8, 8.7, 8.7, 9.1, 10.1, 10.0, 9.6]
gust_m01 = [5.0, 8.5, 7.0, 8.0, 8.5, 7.5, 8.0, 9.0, 7.0, 5.5, 8.0, 14.0, 19.0, 11.0, 7.0, 9.0, 12.0, 8.0, 6.0, 7.0,
            8.0, 6.5, 5.5, 6.5, 8.5, 11.0, 13.5, 15.0, 16.5, 19.5, 14.5, 12.0, 11.0, 13.0, 15.0, 12.0, 10.0, 11.5, 13.0, 10.0,
            8.5, 10.0, 12.0, 9.5, 11.0, 13.5, 11.0, 9.0, 12.0, 14.5, 12.0, 9.5, 11.0, 13.5, 11.0, 10.0, 12.5, 14.0, 11.5, 12.5]
gust_m02 = [4.5, 7.0, 6.5, 7.5, 8.0, 7.0, 7.5, 8.5, 7.0, 4.5, 6.5, 10.0, 13.0, 7.5, 5.5, 8.0, 9.0, 5.5, 4.0, 4.5,
            5.5, 4.5, 4.0, 5.0, 6.5, 8.0, 10.0, 12.5, 14.0, 13.5, 15.5, 14.0, 11.5, 12.5, 16.5, 19.0, 27.3, 16.0, 13.0, 11.0,
            9.0, 7.5, 10.0, 8.0, 6.5, 7.5, 9.0, 11.5, 9.0, 7.5, 5.5, 8.0, 6.5, 4.5, 6.5, 8.0, 6.5, 5.5, 8.0, 9.5]
gust_m03 = [4.0, 6.0, 5.5, 7.0, 7.0, 6.0, 7.0, 7.0, 6.0, 3.0, 4.5, 8.0, 9.5, 5.5, 3.5, 5.5, 4.5, 3.0, 2.5, 3.0,
            3.5, 3.0, 2.5, 3.5, 4.5, 5.5, 6.0, 4.5, 4.0, 5.5, 4.0, 3.0, 4.5, 5.5, 3.0, 2.0, 3.0, 1.8, 3.0, 4.5,
            4.0, 2.5, 2.0, 3.0, 4.5, 3.5, 2.5, 2.0, 3.0, 4.0, 2.5, 2.0, 3.0, 4.5, 3.0, 2.5, 4.0, 3.0, 2.5, 3.5]
gust_m04 = [4.8, 7.5, 7.5, 8.5, 9.5, 8.5, 9.0, 10.0, 8.5, 6.0, 8.0, 11.5, 15.5, 9.5, 7.0, 8.0, 9.5, 7.0, 5.5, 8.0,
            9.5, 8.0, 6.0, 8.0, 9.5, 12.0, 14.0, 12.0, 11.5, 14.0, 15.5, 13.0, 14.5, 17.0, 14.0, 15.5, 14.5, 17.5, 15.5, 13.0,
            14.5, 17.0, 18.5, 16.0, 21.3, 15.5, 14.0, 16.0, 19.0, 23.5, 17.0, 14.5, 16.0, 18.5, 15.5, 14.5, 18.0, 20.0, 16.5, 17.0]
gust_m05 = [4.4, 6.8, 6.2, 7.2, 8.0, 7.0, 8.2, 8.6, 7.0, 5.0, 7.0, 10.5, 14.0, 8.0, 6.0, 7.0, 8.0, 6.0, 4.5, 5.5,
            4.5, 6.0, 7.0, 5.5, 6.0, 8.5, 10.0, 9.5, 11.0, 8.5, 8.0, 9.5, 7.0, 6.0, 8.0, 9.5, 8.0, 6.0, 8.5, 10.0,
            8.5, 7.0, 9.5, 11.0, 8.5, 8.0, 10.0, 12.0, 9.5, 8.0, 9.5, 12.0, 10.5, 8.5, 11.0, 12.5, 10.5, 9.5, 11.0, 12.0]
gust_m06 = [4.6, 7.2, 7.4, 8.0, 8.7, 7.4, 9.4, 9.0, 7.6, 5.2, 7.4, 12.5, 16.5, 8.5, 6.6, 9.5, 12.0, 8.5, 7.0, 6.0,
            5.5, 7.0, 5.5, 4.5, 7.0, 9.5, 12.0, 16.5, 14.5, 12.0, 10.5, 8.5, 8.0, 9.5, 12.0, 10.5, 8.5, 7.0, 8.0, 6.0,
            5.5, 7.0, 5.5, 4.5, 6.0, 8.0, 6.0, 4.5, 5.5, 7.0, 8.5, 7.0, 5.5, 8.0, 9.5, 8.0, 6.0, 7.0, 9.5, 10.5]
gust_m07 = [5.2, 7.6, 7.1, 9.0, 8.6, 8.0, 8.0, 8.6, 8.3, 6.0, 8.5, 13.5, 17.5, 12.0, 8.5, 10.5, 14.0, 10.5, 8.0, 8.5,
            7.0, 5.5, 6.0, 8.0, 10.5, 13.5, 15.5, 13.5, 12.0, 14.5, 13.0, 10.5, 12.0, 13.5, 11.0, 9.5, 11.0, 13.0, 10.5, 8.5,
            10.5, 13.0, 14.5, 12.0, 10.5, 13.0, 15.5, 18.0, 14.0, 16.5, 14.0, 11.5, 13.0, 15.5, 13.0, 11.5, 14.0, 16.5, 14.5, 15.5]
gust_m08 = [4.2, 6.2, 6.2, 7.6, 7.6, 6.6, 7.6, 8.0, 6.6, 3.5, 5.5, 8.5, 10.5, 6.0, 4.5, 6.0, 6.0, 4.5, 2.8, 3.5,
            4.5, 3.5, 2.8, 4.5, 5.0, 7.0, 5.0, 7.5, 6.0, 4.5, 6.0, 5.0, 3.5, 4.5, 6.0, 4.5, 3.5, 5.0, 3.5, 2.8,
            4.5, 6.0, 4.5, 3.5, 5.0, 4.5, 2.8, 4.5, 6.0, 5.0, 3.5, 5.0, 7.0, 5.0, 3.5, 4.5, 6.0, 4.5, 3.5, 5.0]
gust_m09 = [4.9, 7.0, 7.0, 8.1, 8.5, 7.5, 8.8, 9.1, 7.5, 4.8, 7.1, 11.8, 24.0, 8.3, 6.3, 8.3, 10.0, 7.3, 5.6, 6.6,
            6.0, 5.2, 4.5, 6.0, 8.5, 11.0, 10.5, 12.0, 14.5, 16.5, 14.0, 15.5, 13.0, 11.5, 13.0, 14.5, 12.0, 10.5, 12.0, 14.0,
            11.5, 9.5, 12.0, 14.0, 11.5, 9.5, 11.5, 13.0, 10.5, 9.5, 11.5, 13.0, 11.5, 9.5, 10.5, 12.0, 14.0, 11.5, 9.5, 11.5]
gust_m10 = [4.7, 6.9, 6.8, 8.0, 8.2, 7.1, 8.5, 8.5, 7.1, 4.5, 6.6, 10.8, 13.0, 7.3, 5.6, 7.3, 8.3, 6.6, 4.9, 5.6,
            6.6, 4.9, 3.8, 5.6, 7.3, 9.0, 7.8, 9.5, 7.8, 7.0, 8.7, 7.0, 5.2, 7.0, 8.7, 7.0, 5.2, 7.8, 9.5, 7.8,
            6.0, 7.8, 9.5, 7.0, 5.2, 7.0, 8.7, 7.0, 6.0, 7.8, 9.5, 7.8, 7.0, 8.7, 10.4, 8.7, 7.8, 9.5, 7.8, 8.7]
gust_m11 = [4.6, 7.0, 7.2, 8.2, 8.8, 7.8, 8.6, 9.2, 7.8, 5.2, 7.6, 12.5, 17.0, 10.0, 7.2, 9.0, 11.5, 8.5, 6.5, 7.2,
            6.2, 7.4, 6.0, 7.0, 9.0, 11.5, 14.0, 15.5, 13.5, 16.0, 14.5, 13.0, 15.0, 13.5, 12.0, 13.5, 16.0, 13.5, 12.0, 14.0,
            12.5, 11.0, 13.0, 15.0, 12.5, 14.0, 16.5, 14.0, 12.5, 15.0, 12.5, 14.5, 17.0, 14.5, 13.0, 15.0, 18.0, 14.5, 13.0, 14.5]
gust_m12 = [4.8, 7.4, 7.2, 7.8, 9.0, 7.6, 8.4, 8.8, 7.6, 4.0, 6.0, 9.5, 14.5, 7.8, 6.0, 7.6, 9.0, 6.2, 4.0, 5.0,
            4.0, 5.2, 4.5, 3.6, 5.6, 7.5, 8.6, 7.0, 8.8, 6.6, 5.2, 7.2, 8.5, 6.8, 5.2, 6.5, 7.8, 5.8, 4.5, 5.8,
            7.0, 5.5, 4.2, 5.8, 7.5, 5.8, 4.5, 6.2, 7.8, 6.2, 4.8, 6.5, 5.2, 3.8, 5.5, 7.2, 5.8, 4.5, 6.2, 7.2]
gust_m13 = [4.4, 6.6, 6.6, 7.6, 8.0, 7.2, 8.2, 8.6, 7.2, 4.2, 6.4, 11.0, 15.0, 9.0, 5.2, 7.0, 9.5, 6.0, 4.8, 6.2,
            7.6, 6.0, 5.0, 6.6, 8.6, 10.0, 11.6, 13.0, 10.6, 9.6, 11.4, 9.4, 8.0, 10.0, 11.6, 9.6, 8.0, 10.0, 12.0, 10.2,
            8.2, 10.0, 11.8, 9.6, 8.0, 10.2, 12.2, 10.6, 8.6, 10.6, 12.6, 10.6, 9.0, 11.0, 13.0, 11.0, 9.2, 11.2, 13.2, 11.6]
gust_m14 = [5.0, 7.8, 7.6, 8.6, 9.4, 8.0, 9.2, 9.6, 8.2, 5.8, 8.0, 13.0, 17.8, 10.6, 7.8, 9.6, 12.8, 9.4, 7.2, 8.2,
            8.6, 7.6, 6.6, 8.6, 11.0, 13.4, 15.0, 17.0, 18.0, 15.4, 17.0, 15.8, 13.6, 15.4, 17.8, 19.0, 16.2, 14.6, 16.2, 18.4,
            16.2, 14.6, 16.2, 18.0, 15.4, 13.6, 16.2, 18.8, 16.2, 14.6, 16.2, 18.0, 19.6, 17.0, 15.4, 17.0, 18.8, 16.2, 14.6, 16.2]
gust_m15 = [4.2, 6.4, 5.8, 7.0, 7.4, 6.4, 7.4, 7.6, 6.2, 3.2, 4.8, 8.2, 11.0, 5.6, 3.8, 5.5, 5.2, 3.5, 2.4, 3.2,
            2.6, 2.2, 3.2, 3.8, 3.2, 5.0, 3.8, 2.6, 4.4, 3.2, 2.2, 3.8, 2.8, 1.8, 3.6, 2.6, 1.6, 3.2, 2.2, 1.4,
            2.6, 3.8, 2.6, 1.8, 3.2, 2.2, 1.2, 2.6, 3.8, 2.8, 1.8, 3.2, 2.2, 1.4, 2.8, 3.8, 2.6, 1.8, 3.2, 4.0]
gust_m16 = [4.6, 6.8, 7.2, 7.9, 8.4, 7.2, 8.1, 8.8, 7.2, 4.9, 7.2, 11.2, 15.0, 8.5, 6.7, 8.5, 10.5, 7.5, 5.8, 6.5,
            7.2, 6.2, 5.5, 6.5, 8.2, 10.5, 11.8, 10.8, 12.8, 11.5, 9.8, 11.5, 13.2, 11.0, 9.4, 11.0, 12.8, 10.5, 8.8, 10.2,
            11.5, 9.8, 8.5, 10.2, 11.8, 10.2, 8.8, 10.5, 12.2, 10.8, 9.4, 11.0, 12.8, 11.0, 9.8, 11.5, 13.2, 11.8, 10.5, 11.8]
gust_limit_high = 27.9
gust_limit_low = 20.85

# ---------------- Bedekkingsgraad ----------------
cloud_low = [35, 87, 97, 35, 68, 56, 6, 47, 6, 12,
             90, 92, 69, 7, 64, 87, 98, 62, 33, 35,
             51, 27, 48, 100, 100, 100, 100, 96, 100, 96,
             98, 95, 89, 66, 70, 87, 90, 89, 86, 93,
             90, 68, 70, 82, 78, 65, 70, 72, 87, 73,
             46, 60, 63, 66, 55, 52, 92, 60, 76, 90]
cloud_high = [54, 100, 100, 99, 97, 94, 94, 100, 100, 94,
              100, 100, 100, 100, 100, 100, 100, 100, 100, 100,
              100, 100, 100, 100, 100, 100, 100, 100, 100, 100,
              100, 100, 100, 100, 100, 100, 100, 100, 100, 100,
              100, 100, 100, 100, 100, 100, 100, 100, 100, 100,
              100, 100, 100, 100, 100, 100, 100, 100, 100, 100]
cloud_median = [45, 96, 99, 85, 84, 90, 42, 95, 80, 72,
                100, 100, 100, 59, 96, 100, 100, 97, 96, 87,
                96, 89, 98, 100, 100, 100, 100, 100, 100, 100,
                100, 100, 100, 98, 97, 99, 100, 99, 98, 100,
                100, 97, 97, 99, 98, 99, 98, 99, 100, 99,
                96, 95, 96, 95, 95, 97, 99, 97, 98, 99]
cloud_oper = [22, 99, 100, 32, 68, 94, 0, 100, 50, 0,
              100, 100, 100, 7, 95, 100, 100, 100, 100, 100,
              100, 53, 80, 100, 100, 88, 100, 100, 100, 100,
              100, 100, 100, 100, 100, 100, 100, 100, 100, 100]
cloud_ctrl = [40, 98, 100, 43, 35, 100, 100, 100, 100, 10,
              100, 100, 100, 1, 100, 100, 99, 97, 95, 100,
              96, 96, 81, 12, 100, 100, 100, 100, 100, 100,
              100, 100, 100, 100, 92, 100, 100, 97, 98, 88,
              95, 90, 82, 100, 100, 100, 100, 74, 100, 100,
              100, 100, 99, 72, 67, 80, 93, 11, 1, 11]

temp_members = [temp_m01, temp_m02, temp_m03, temp_m04, temp_m05, temp_m06, temp_m07, temp_m08, temp_m09,
                temp_m10, temp_m11, temp_m12, temp_m13, temp_m14, temp_m15, temp_m16, temp_m17, temp_m18]
dew_members = [dew_m01, dew_m02, dew_m03, dew_m04, dew_m05, dew_m06, dew_m07, dew_m08,
               dew_m09, dew_m10, dew_m11, dew_m12, dew_m13, dew_m14, dew_m15, dew_m16]
rain_members = [rain_m01, rain_m02, rain_m03, rain_m04, rain_m05, rain_m06, rain_m07,
                rain_m08, rain_m09, rain_m10, rain_m11, rain_m12, rain_m13, rain_m14]
wind_members = [wind_m01, wind_m02, wind_m03, wind_m04, wind_m05, wind_m06, wind_m07, wind_m08,
                wind_m09, wind_m10, wind_m11, wind_m12, wind_m13, wind_m14, wind_m15, wind_m16]
gust_members = [gust_m01, gust_m02, gust_m03, gust_m04, gust_m05, gust_m06, gust_m07, gust_m08,
                gust_m09, gust_m10, gust_m11, gust_m12, gust_m13, gust_m14, gust_m15, gust_m16]

for name, grp in [('temp', temp_members), ('dew', dew_members), ('rain', rain_members),
                  ('wind', wind_members), ('gust', gust_members)]:
    for i, m in enumerate(grp):
        if len(m) != N:
            raise ValueError(f'{name} member {i+1} has {len(m)} values')
for name, arr in [('temp_ctrl', temp_ctrl), ('temp_avg', temp_avg), ('dew_ctrl', dew_ctrl), ('dew_avg', dew_avg),
                  ('rain_ctrl', rain_ctrl), ('rain_avg', rain_avg), ('wind_ctrl', wind_ctrl), ('wind_avg', wind_avg),
                  ('gust_ctrl', gust_ctrl), ('gust_avg', gust_avg), ('cloud_low', cloud_low), ('cloud_high', cloud_high),
                  ('cloud_median', cloud_median), ('cloud_ctrl', cloud_ctrl)]:
    if len(arr) != N:
        raise ValueError(f'{name} has {len(arr)} values')

# ---------------- layout ----------------
W, H = 635, 1800
fig = plt.figure(figsize=(W / 100, H / 100), dpi=100)
fig.patch.set_facecolor('white')
X0, X1 = 28.3, 634.8
PH = 260

RED = '#d8383a'
BLUE = '#3333cc'
AVG = '#7a0000'
MEMB = '#4cae3c'


def fx(px):
    return px / W


def fy(py):
    return 1 - py / H


def panel_top(k):
    return 20.7 + 300 * k


def make_axes(k):
    top = panel_top(k)
    return fig.add_axes([fx(X0), fy(top + PH), (X1 - X0) / W, PH / H])


def base_style(ax, ylo, yhi, ystep, shift=0.0):
    ax.set_xlim(0, N - 1)
    ax.set_ylim(ylo, yhi)
    yt = np.arange(ylo, yhi + ystep * 0.5, ystep)
    ax.set_yticks(yt)
    ax.set_yticklabels([f'{v:g}' for v in yt])
    ax.tick_params(axis='y', length=3, pad=2, labelsize=8, direction='out', width=0.8)
    minor_pos = [p + shift for p in range(N) if p + shift <= N - 1]
    day_pos = [3 - shift + 4 * i for i in range(len(day_labels))]
    ax.set_xticks(day_pos)
    ax.set_xticklabels(day_labels, fontsize=8)
    ax.set_xticks(minor_pos, minor=True)
    ax.tick_params(axis='x', which='both', length=3, pad=2.5, direction='out', width=0.8)
    ax.set_axisbelow(True)
    ax.yaxis.grid(True, color='#c4b4c8', linestyle=(0, (3, 2)), lw=0.8)
    for p in minor_pos:
        if p not in day_pos:
            ax.axvline(p, color='#cccccc', ls=(0, (3, 2)), lw=0.8, zorder=0.5)
    for p in day_pos:
        ax.axvline(p, color='#505050', lw=1.0, zorder=1)
    ax.spines['right'].set_visible(False)
    for s in ('left', 'bottom', 'top'):
        ax.spines[s].set_color('black')
        ax.spines[s].set_linewidth(1.2)


def header(k, title, cloud=False):
    top = panel_top(k)
    yl = fy(top - 7.4)
    if not cloud:
        items = [(28, 44, dict(color=RED, lw=3), 'Oper', 48),
                 (96, 111, dict(color=BLUE, lw=3), 'Control', 115),
                 (175, 190, dict(color='#90d090', lw=1), 'Members', 194),
                 (262, 277, dict(color=AVG, lw=2.5, ls=(0, (1, 1))), 'Average', 281)]
        for x0, x1, kw, label, tx in items:
            fig.add_artist(Line2D([fx(x0), fx(x1)], [yl, yl], transform=fig.transFigure, **kw))
            fig.text(fx(tx), yl, label, fontsize=8, va='center', ha='left')
    else:
        items = [(28, RED, '#8a1010', 'oper', 40),
                 (87, BLUE, '#101070', 'control', 98),
                 (157, '#ffffaa', '#606060', '50%', 168),
                 (213, '#101010', '#000000', 'median', 225)]
        for x0, fc, ec, label, tx in items:
            fig.add_artist(Rectangle((fx(x0), yl - 3.5 / H), 7.5 / W, 7.5 / H, transform=fig.transFigure,
                                     facecolor=fc, edgecolor=ec, lw=0.8))
            fig.text(fx(tx), yl, label, fontsize=8, va='center', ha='left')
    fig.text(fx(415), yl, title, ha='center', va='center', fontsize=10.5, fontweight='bold', family=NARROW)
    fig.text(fx(634), fy(top - 15.8), 'Infoplaza.nl - regio noordoost', ha='right', va='center',
             fontsize=7, color='#8c8c8c', family=NARROW)
    fig.text(fx(634), fy(top - 6.8), 'Gemaakt: vr 17 dec 10:00', ha='right', va='center',
             fontsize=7, color='#8c8c8c', family=NARROW)


def draw_ens(ax, members, avg, ctrl, oper):
    for m in members:
        ax.plot(steps, m, color=MEMB, lw=0.8, alpha=0.45, zorder=2)
    ax.plot(steps, avg, color=AVG, lw=2.2, ls=(0, (1, 1)), zorder=3)
    ax.plot(steps[:len(ctrl)], ctrl, color=BLUE, lw=2.4, zorder=4, solid_joinstyle='round')
    ax.plot(steps[:len(oper)], oper, color=RED, lw=2.4, zorder=5, solid_joinstyle='round')


# Panel 1: Temperatuur
ax1 = make_axes(0)
base_style(ax1, -25, 15, 5)
ax1.axhline(0, color='black', lw=2, zorder=2.5)
draw_ens(ax1, temp_members, temp_avg, temp_ctrl, temp_oper)
header(0, 'Temperatuur 2m')

# Panel 2: Dauwpunt
ax2 = make_axes(1)
base_style(ax2, -30, 15, 5)
draw_ens(ax2, dew_members, dew_avg, dew_ctrl, dew_oper)
header(1, 'Dauwpunt 2m')

# Panel 3: Neerslag
ax3 = make_axes(2)
base_style(ax3, 0, 16, 2)
draw_ens(ax3, rain_members, rain_avg, rain_ctrl, rain_oper)
header(2, 'Neerslag')

# Panel 4: 10m wind
ax4 = make_axes(3)
base_style(ax4, 0, 14, 2)
draw_ens(ax4, wind_members, wind_avg, wind_ctrl, wind_oper)
header(3, '10m wind')

# Panel 5: 10m windstoten
ax5 = make_axes(4)
base_style(ax5, 0, 30, 2)
ax5.axhline(gust_limit_high, color='#ff44ff', ls=(0, (3, 2)), lw=2, zorder=2.5)
ax5.axhline(gust_limit_low, color='#1f5a5a', ls=(0, (1, 1)), lw=2, zorder=2.5)
draw_ens(ax5, gust_members, gust_avg, gust_ctrl, gust_oper)
header(4, '10m windstoten')

# Panel 6: Bedekkingsgraad
ax6 = make_axes(5)
base_style(ax6, 0, 100, 10, shift=0.5)
low = np.array(cloud_low, dtype=float)
high = np.array(cloud_high, dtype=float)
ax6.bar(steps, high - low, bottom=low, width=0.9, color='#ffffaa', edgecolor='#b4b4b4',
        lw=0.8, zorder=2, clip_on=False)
ax6.hlines(cloud_median, steps - 0.45, steps + 0.45, color='#202020', lw=1.0, zorder=3, clip_on=False)
ax6.plot(steps, cloud_ctrl, color=BLUE, lw=2.0, zorder=4, clip_on=False)
ax6.plot(steps[:len(cloud_oper)], cloud_oper, color=RED, lw=2.0, zorder=5, clip_on=False)
header(5, 'Bedekkingsgraad', cloud=True)

fig.savefig('out.png', dpi=100, facecolor='white')
